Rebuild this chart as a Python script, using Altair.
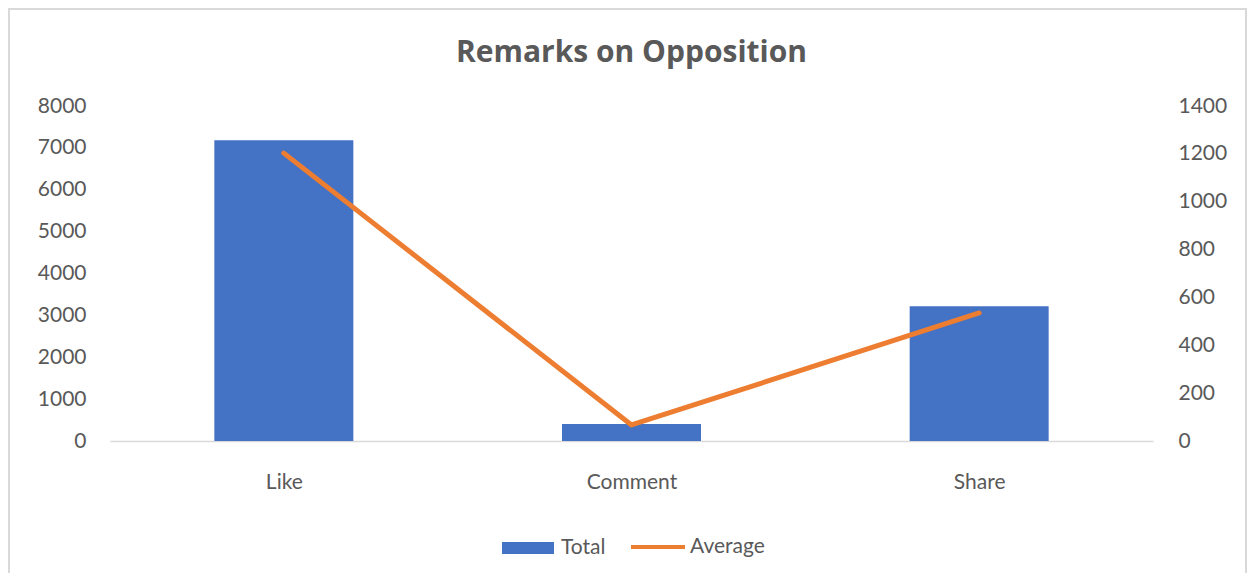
import altair as alt
import pandas as pd

categories = ["Like", "Comment", "Share"]
total = [7180, 405, 3220]
average = [1203, 67, 535]

df = pd.DataFrame({
    "category": categories,
    "total": total,
    "average": average,
    "s_total": ["Total"] * 3,
    "s_avg": ["Average"] * 3,
})

FONT = "Lato"
GRAY = "#595959"

x_enc = alt.X(
    "category:N",
    sort=categories,
    scale=alt.Scale(type="point", padding=0.5),
    axis=alt.Axis(title=None, labelAngle=0, ticks=False, domain=True,
                  domainColor="#d9d9d9", domainWidth=1.5, grid=False,
                  labelPadding=30, labelFontSize=21, labelColor=GRAY, labelFont=FONT),
)

bars = alt.Chart(df).mark_bar(size=139).encode(
    x=x_enc,
    y=alt.Y("total:Q", scale=alt.Scale(domain=[0, 8000]),
            axis=alt.Axis(title=None, values=list(range(0, 8001, 1000)), format="d", domain=False,
                          ticks=False, grid=False, labelPadding=24, labelFontSize=21,
                          labelColor=GRAY, labelFont=FONT, orient="left")),
    color=alt.Color("s_total:N", scale=alt.Scale(domain=["Total"], range=["#4472C4"]),
                    legend=alt.Legend(title=None, orient="none", legendX=392, legendY=416,
                                      symbolType="M-1,-0.23H1V0.23H-1Z", symbolSize=2704,
                                      labelFontSize=21, labelColor=GRAY, labelFont=FONT,
                                      labelOffset=7, padding=0, symbolStrokeWidth=0)),
)

line = alt.Chart(df).mark_line(strokeWidth=5, strokeCap="round", strokeJoin="round").encode(
    x=x_enc,
    y=alt.Y("average:Q", scale=alt.Scale(domain=[0, 1400]),
            axis=alt.Axis(title=None, values=list(range(0, 1401, 200)), format="d", domain=False,
                          ticks=False, grid=False, labelPadding=25, labelFontSize=21,
                          labelColor=GRAY, labelFont=FONT, orient="right")),
    stroke=alt.Stroke("s_avg:N", scale=alt.Scale(domain=["Average"], range=["#ED7D31"]),
                      legend=alt.Legend(title=None, orient="none", legendX=519, legendY=412,
                                        symbolType="stroke", symbolSize=2916, symbolStrokeWidth=4,
                                        labelFontSize=21, labelColor=GRAY, labelFont=FONT,
                                        labelOffset=3, padding=0)),
)

border = alt.Chart(alt.Data(values=[{"a": 1}])).mark_rect(
    fill=None, stroke="#d9d9d9", strokeWidth=2
).encode(
    x=alt.value(-101), x2=alt.value(1136), y=alt.value(-97), y2=alt.value(490)
)

chart = alt.layer(border, bars, line).resolve_scale(
    y="independent"
).properties(
    width=1043,
    height=335,
    title=alt.Title("Remarks on Opposition", fontSize=30, font="Open Sans", fontWeight="bold",
                    color=GRAY, anchor="middle", offset=-60),
    autosize=alt.AutoSizeParams(type="none"),
    padding={"left": 102, "top": 98, "right": 94, "bottom": 132},
    background="white",
).configure_view(stroke=None)

chart.save("out.html", embed_options={"renderer": "svg", "actions": False})
